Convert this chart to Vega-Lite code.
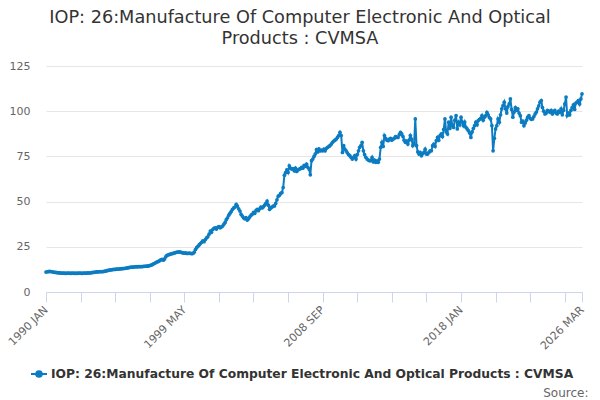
{
"$schema": "https://vega.github.io/schema/vega-lite/v6.json",
"width": 536, "height": 226,
"autosize": {"type": "none"},
"padding": {"left": 46, "top": 66, "right": 18, "bottom": 108},
"background": "white",
"config": {"view": {"stroke": null}, "font": "DejaVu Sans"},
"title": {"text": ["IOP: 26:Manufacture Of Computer Electronic And Optical", "Products : CVMSA"], "fontSize": 17.7, "fontWeight": "normal", "color": "#333333", "anchor": "middle", "dx": -14, "offset": 12, "lineHeight": 21.5, "font": "DejaVu Sans"},
"data": {"values": [
{"date":"1990-01","value":11.0},{"date":"1990-02","value":11.2},{"date":"1990-03","value":11.3},{"date":"1990-04","value":11.4},{"date":"1990-05","value":11.3},{"date":"1990-06","value":11.2},{"date":"1990-07","value":11.0},{"date":"1990-08","value":10.9},{"date":"1990-09","value":10.8},{"date":"1990-10","value":10.7},{"date":"1990-11","value":10.6},{"date":"1990-12","value":10.6},
{"date":"1991-01","value":10.5},{"date":"1991-02","value":10.4},{"date":"1991-03","value":10.5},{"date":"1991-04","value":10.4},{"date":"1991-05","value":10.3},{"date":"1991-06","value":10.4},{"date":"1991-07","value":10.5},{"date":"1991-08","value":10.4},{"date":"1991-09","value":10.3},{"date":"1991-10","value":10.4},{"date":"1991-11","value":10.4},{"date":"1991-12","value":10.3},
{"date":"1992-01","value":10.4},{"date":"1992-02","value":10.3},{"date":"1992-03","value":10.4},{"date":"1992-04","value":10.5},{"date":"1992-05","value":10.4},{"date":"1992-06","value":10.3},{"date":"1992-07","value":10.4},{"date":"1992-08","value":10.5},{"date":"1992-09","value":10.4},{"date":"1992-10","value":10.5},{"date":"1992-11","value":10.6},{"date":"1992-12","value":10.5},
{"date":"1993-01","value":10.6},{"date":"1993-02","value":10.7},{"date":"1993-03","value":10.8},{"date":"1993-04","value":10.9},{"date":"1993-05","value":11.0},{"date":"1993-06","value":11.1},{"date":"1993-07","value":11.1},{"date":"1993-08","value":11.2},{"date":"1993-09","value":11.3},{"date":"1993-10","value":11.2},{"date":"1993-11","value":11.3},{"date":"1993-12","value":11.4},
{"date":"1994-01","value":11.5},{"date":"1994-02","value":11.7},{"date":"1994-03","value":11.9},{"date":"1994-04","value":12.0},{"date":"1994-05","value":12.2},{"date":"1994-06","value":12.3},{"date":"1994-07","value":12.4},{"date":"1994-08","value":12.5},{"date":"1994-09","value":12.5},{"date":"1994-10","value":12.6},{"date":"1994-11","value":12.7},{"date":"1994-12","value":12.7},
{"date":"1995-01","value":12.8},{"date":"1995-02","value":12.9},{"date":"1995-03","value":12.9},{"date":"1995-04","value":13.0},{"date":"1995-05","value":13.1},{"date":"1995-06","value":13.2},{"date":"1995-07","value":13.3},{"date":"1995-08","value":13.5},{"date":"1995-09","value":13.6},{"date":"1995-10","value":13.7},{"date":"1995-11","value":13.8},{"date":"1995-12","value":13.8},
{"date":"1996-01","value":13.9},{"date":"1996-02","value":14.0},{"date":"1996-03","value":13.9},{"date":"1996-04","value":14.0},{"date":"1996-05","value":14.1},{"date":"1996-06","value":14.0},{"date":"1996-07","value":14.1},{"date":"1996-08","value":14.2},{"date":"1996-09","value":14.2},{"date":"1996-10","value":14.3},{"date":"1996-11","value":14.3},{"date":"1996-12","value":14.4},
{"date":"1997-01","value":14.6},{"date":"1997-02","value":14.8},{"date":"1997-03","value":15.1},{"date":"1997-04","value":15.5},{"date":"1997-05","value":15.9},{"date":"1997-06","value":16.3},{"date":"1997-07","value":16.6},{"date":"1997-08","value":16.9},{"date":"1997-09","value":17.3},{"date":"1997-10","value":17.8},{"date":"1997-11","value":18.0},{"date":"1997-12","value":17.6},
{"date":"1998-01","value":18.3},{"date":"1998-02","value":19.5},{"date":"1998-03","value":20.3},{"date":"1998-04","value":20.5},{"date":"1998-05","value":20.8},{"date":"1998-06","value":21.0},{"date":"1998-07","value":21.2},{"date":"1998-08","value":21.4},{"date":"1998-09","value":21.6},{"date":"1998-10","value":21.8},{"date":"1998-11","value":22.0},{"date":"1998-12","value":22.1},
{"date":"1999-01","value":22.2},{"date":"1999-02","value":22.0},{"date":"1999-03","value":21.8},{"date":"1999-04","value":21.6},{"date":"1999-05","value":21.5},{"date":"1999-06","value":21.6},{"date":"1999-07","value":21.4},{"date":"1999-08","value":21.3},{"date":"1999-09","value":21.5},{"date":"1999-10","value":21.4},{"date":"1999-11","value":21.2},{"date":"1999-12","value":21.3},
{"date":"2000-01","value":22.0},{"date":"2000-02","value":23.5},{"date":"2000-03","value":24.5},{"date":"2000-04","value":25.3},{"date":"2000-05","value":26.0},{"date":"2000-06","value":26.8},{"date":"2000-07","value":27.5},{"date":"2000-08","value":28.3},{"date":"2000-09","value":27.8},{"date":"2000-10","value":29.0},{"date":"2000-11","value":30.0},{"date":"2000-12","value":30.5},
{"date":"2001-01","value":32.0},{"date":"2001-02","value":33.7},{"date":"2001-03","value":33.0},{"date":"2001-04","value":34.5},{"date":"2001-05","value":35.2},{"date":"2001-06","value":35.5},{"date":"2001-07","value":34.8},{"date":"2001-08","value":35.8},{"date":"2001-09","value":36.2},{"date":"2001-10","value":35.5},{"date":"2001-11","value":36.0},{"date":"2001-12","value":36.5},
{"date":"2002-01","value":37.5},{"date":"2002-02","value":38.5},{"date":"2002-03","value":40.0},{"date":"2002-04","value":41.0},{"date":"2002-05","value":42.5},{"date":"2002-06","value":43.5},{"date":"2002-07","value":44.5},{"date":"2002-08","value":45.7},{"date":"2002-09","value":46.5},{"date":"2002-10","value":47.0},{"date":"2002-11","value":48.5},{"date":"2002-12","value":47.5},
{"date":"2003-01","value":46.0},{"date":"2003-02","value":44.8},{"date":"2003-03","value":43.0},{"date":"2003-04","value":42.0},{"date":"2003-05","value":41.0},{"date":"2003-06","value":40.5},{"date":"2003-07","value":41.2},{"date":"2003-08","value":39.8},{"date":"2003-09","value":40.5},{"date":"2003-10","value":41.5},{"date":"2003-11","value":42.5},{"date":"2003-12","value":43.0},
{"date":"2004-01","value":44.0},{"date":"2004-02","value":43.5},{"date":"2004-03","value":45.0},{"date":"2004-04","value":45.7},{"date":"2004-05","value":45.0},{"date":"2004-06","value":46.0},{"date":"2004-07","value":47.0},{"date":"2004-08","value":46.5},{"date":"2004-09","value":47.2},{"date":"2004-10","value":48.0},{"date":"2004-11","value":49.0},{"date":"2004-12","value":50.3},
{"date":"2005-01","value":48.0},{"date":"2005-02","value":45.7},{"date":"2005-03","value":46.5},{"date":"2005-04","value":47.0},{"date":"2005-05","value":47.5},{"date":"2005-06","value":47.6},{"date":"2005-07","value":49.0},{"date":"2005-08","value":51.0},{"date":"2005-09","value":53.0},{"date":"2005-10","value":53.5},{"date":"2005-11","value":54.5},{"date":"2005-12","value":55.0},
{"date":"2006-01","value":57.8},{"date":"2006-02","value":64.6},{"date":"2006-03","value":66.0},{"date":"2006-04","value":67.5},{"date":"2006-05","value":66.1},{"date":"2006-06","value":69.8},{"date":"2006-07","value":68.5},{"date":"2006-08","value":68.0},{"date":"2006-09","value":68.2},{"date":"2006-10","value":67.0},{"date":"2006-11","value":68.5},{"date":"2006-12","value":66.7},
{"date":"2007-01","value":67.5},{"date":"2007-02","value":68.0},{"date":"2007-03","value":68.2},{"date":"2007-04","value":69.0},{"date":"2007-05","value":68.5},{"date":"2007-06","value":70.0},{"date":"2007-07","value":69.5},{"date":"2007-08","value":70.7},{"date":"2007-09","value":69.0},{"date":"2007-10","value":68.0},{"date":"2007-11","value":64.8},{"date":"2007-12","value":72.6},
{"date":"2008-01","value":73.5},{"date":"2008-02","value":75.0},{"date":"2008-03","value":76.3},{"date":"2008-04","value":78.7},{"date":"2008-05","value":77.5},{"date":"2008-06","value":79.1},{"date":"2008-07","value":78.0},{"date":"2008-08","value":78.5},{"date":"2008-09","value":78.1},{"date":"2008-10","value":79.0},{"date":"2008-11","value":78.1},{"date":"2008-12","value":79.5},
{"date":"2009-01","value":80.0},{"date":"2009-02","value":80.5},{"date":"2009-03","value":81.0},{"date":"2009-04","value":81.8},{"date":"2009-05","value":82.8},{"date":"2009-06","value":83.5},{"date":"2009-07","value":84.0},{"date":"2009-08","value":84.6},{"date":"2009-09","value":85.5},{"date":"2009-10","value":86.5},{"date":"2009-11","value":88.3},{"date":"2009-12","value":86.5},
{"date":"2010-01","value":77.2},{"date":"2010-02","value":80.9},{"date":"2010-03","value":79.0},{"date":"2010-04","value":78.1},{"date":"2010-05","value":77.0},{"date":"2010-06","value":76.0},{"date":"2010-07","value":75.4},{"date":"2010-08","value":74.5},{"date":"2010-09","value":73.5},{"date":"2010-10","value":74.4},{"date":"2010-11","value":75.5},{"date":"2010-12","value":73.5},
{"date":"2011-01","value":76.0},{"date":"2011-02","value":78.1},{"date":"2011-03","value":80.0},{"date":"2011-04","value":81.0},{"date":"2011-05","value":82.8},{"date":"2011-06","value":78.1},{"date":"2011-07","value":76.0},{"date":"2011-08","value":74.5},{"date":"2011-09","value":73.5},{"date":"2011-10","value":73.0},{"date":"2011-11","value":72.6},{"date":"2011-12","value":72.6},
{"date":"2012-01","value":74.4},{"date":"2012-02","value":72.0},{"date":"2012-03","value":73.0},{"date":"2012-04","value":71.7},{"date":"2012-05","value":72.5},{"date":"2012-06","value":71.7},{"date":"2012-07","value":73.5},{"date":"2012-08","value":80.0},{"date":"2012-09","value":82.8},{"date":"2012-10","value":80.5},{"date":"2012-11","value":86.5},{"date":"2012-12","value":85.0},
{"date":"2013-01","value":84.0},{"date":"2013-02","value":83.7},{"date":"2013-03","value":84.5},{"date":"2013-04","value":85.0},{"date":"2013-05","value":84.0},{"date":"2013-06","value":84.6},{"date":"2013-07","value":85.0},{"date":"2013-08","value":86.0},{"date":"2013-09","value":85.5},{"date":"2013-10","value":85.5},{"date":"2013-11","value":87.0},{"date":"2013-12","value":88.3},
{"date":"2014-01","value":87.4},{"date":"2014-02","value":86.0},{"date":"2014-03","value":84.0},{"date":"2014-04","value":82.8},{"date":"2014-05","value":83.5},{"date":"2014-06","value":81.8},{"date":"2014-07","value":84.0},{"date":"2014-08","value":86.5},{"date":"2014-09","value":84.6},{"date":"2014-10","value":80.9},{"date":"2014-11","value":82.0},{"date":"2014-12","value":95.7},
{"date":"2015-01","value":80.9},{"date":"2015-02","value":77.5},{"date":"2015-03","value":76.3},{"date":"2015-04","value":77.2},{"date":"2015-05","value":75.4},{"date":"2015-06","value":76.5},{"date":"2015-07","value":77.2},{"date":"2015-08","value":79.0},{"date":"2015-09","value":76.3},{"date":"2015-10","value":76.3},{"date":"2015-11","value":77.2},{"date":"2015-12","value":78.1},
{"date":"2016-01","value":78.1},{"date":"2016-02","value":80.9},{"date":"2016-03","value":81.8},{"date":"2016-04","value":80.5},{"date":"2016-05","value":83.7},{"date":"2016-06","value":85.5},{"date":"2016-07","value":84.0},{"date":"2016-08","value":86.5},{"date":"2016-09","value":87.4},{"date":"2016-10","value":86.0},{"date":"2016-11","value":90.0},{"date":"2016-12","value":95.7},
{"date":"2017-01","value":88.5},{"date":"2017-02","value":87.4},{"date":"2017-03","value":93.9},{"date":"2017-04","value":90.5},{"date":"2017-05","value":96.7},{"date":"2017-06","value":92.0},{"date":"2017-07","value":91.1},{"date":"2017-08","value":95.0},{"date":"2017-09","value":97.6},{"date":"2017-10","value":90.2},{"date":"2017-11","value":93.9},{"date":"2017-12","value":92.5},
{"date":"2018-01","value":96.7},{"date":"2018-02","value":93.9},{"date":"2018-03","value":92.0},{"date":"2018-04","value":94.0},{"date":"2018-05","value":91.1},{"date":"2018-06","value":90.2},{"date":"2018-07","value":89.2},{"date":"2018-08","value":88.0},{"date":"2018-09","value":85.5},{"date":"2018-10","value":88.5},{"date":"2018-11","value":90.5},{"date":"2018-12","value":92.0},
{"date":"2019-01","value":93.9},{"date":"2019-02","value":92.5},{"date":"2019-03","value":94.8},{"date":"2019-04","value":95.5},{"date":"2019-05","value":96.0},{"date":"2019-06","value":97.6},{"date":"2019-07","value":95.0},{"date":"2019-08","value":96.7},{"date":"2019-09","value":97.5},{"date":"2019-10","value":99.4},{"date":"2019-11","value":98.0},{"date":"2019-12","value":96.5},
{"date":"2020-01","value":95.7},{"date":"2020-02","value":92.0},{"date":"2020-03","value":78.1},{"date":"2020-04","value":85.0},{"date":"2020-05","value":90.2},{"date":"2020-06","value":92.0},{"date":"2020-07","value":95.7},{"date":"2020-08","value":93.9},{"date":"2020-09","value":98.0},{"date":"2020-10","value":101.3},{"date":"2020-11","value":103.1},{"date":"2020-12","value":105.0},
{"date":"2021-01","value":101.3},{"date":"2021-02","value":99.0},{"date":"2021-03","value":102.5},{"date":"2021-04","value":104.0},{"date":"2021-05","value":106.8},{"date":"2021-06","value":101.0},{"date":"2021-07","value":96.7},{"date":"2021-08","value":99.5},{"date":"2021-09","value":102.0},{"date":"2021-10","value":100.5},{"date":"2021-11","value":101.3},{"date":"2021-12","value":99.0},
{"date":"2022-01","value":97.5},{"date":"2022-02","value":93.9},{"date":"2022-03","value":94.5},{"date":"2022-04","value":92.0},{"date":"2022-05","value":93.5},{"date":"2022-06","value":95.0},{"date":"2022-07","value":96.7},{"date":"2022-08","value":97.6},{"date":"2022-09","value":96.0},{"date":"2022-10","value":95.5},{"date":"2022-11","value":95.7},{"date":"2022-12","value":97.0},
{"date":"2023-01","value":98.5},{"date":"2023-02","value":99.5},{"date":"2023-03","value":101.3},{"date":"2023-04","value":103.0},{"date":"2023-05","value":105.0},{"date":"2023-06","value":105.9},{"date":"2023-07","value":102.0},{"date":"2023-08","value":100.0},{"date":"2023-09","value":98.5},{"date":"2023-10","value":99.0},{"date":"2023-11","value":100.5},{"date":"2023-12","value":100.0},
{"date":"2024-01","value":99.4},{"date":"2024-02","value":100.4},{"date":"2024-03","value":98.5},{"date":"2024-04","value":99.5},{"date":"2024-05","value":100.4},{"date":"2024-06","value":99.0},{"date":"2024-07","value":98.5},{"date":"2024-08","value":100.0},{"date":"2024-09","value":99.4},{"date":"2024-10","value":101.3},{"date":"2024-11","value":98.0},{"date":"2024-12","value":100.5},
{"date":"2025-01","value":104.0},{"date":"2025-02","value":107.8},{"date":"2025-03","value":97.6},{"date":"2025-04","value":99.0},{"date":"2025-05","value":98.0},{"date":"2025-06","value":100.5},{"date":"2025-07","value":102.0},{"date":"2025-08","value":103.5},{"date":"2025-09","value":101.0},{"date":"2025-10","value":104.5},{"date":"2025-11","value":105.0},{"date":"2025-12","value":105.9},
{"date":"2026-01","value":104.0},{"date":"2026-02","value":106.8},{"date":"2026-03","value":109.6}
]},
"mark": {"type": "line", "strokeWidth": 2, "point": {"filled": true, "size": 14}},
"encoding": {
"x": {"field": "date", "type": "temporal",
 "scale": {"type": "utc", "domain": [{"year": 1990, "month": 1, "date": 1, "utc": true}, {"year": 2026, "month": 3, "date": 1, "utc": true}], "nice": false},
 "axis": {"title": "Source:", "titleAnchor": "end", "titleAlign": "right", "titleBaseline": "middle", "titleX": 542, "titleY": 100, "titleFontWeight": "normal", "titleFontSize": 12, "titleColor": "#666666", "titleFont": "DejaVu Sans",
  "values": [{"year":1990,"month":1,"date":1,"utc":true},{"year":1992,"month":5,"date":1,"utc":true},{"year":1994,"month":9,"date":1,"utc":true},{"year":1997,"month":1,"date":1,"utc":true},{"year":1999,"month":5,"date":1,"utc":true},{"year":2001,"month":9,"date":1,"utc":true},{"year":2004,"month":1,"date":1,"utc":true},{"year":2006,"month":5,"date":1,"utc":true},{"year":2008,"month":9,"date":1,"utc":true},{"year":2011,"month":1,"date":1,"utc":true},{"year":2013,"month":5,"date":1,"utc":true},{"year":2015,"month":9,"date":1,"utc":true},{"year":2018,"month":1,"date":1,"utc":true},{"year":2020,"month":5,"date":1,"utc":true},{"year":2022,"month":9,"date":1,"utc":true},{"year":2025,"month":1,"date":1,"utc":true},{"year":2026,"month":3,"date":1,"utc":true}],
  "labelExpr": "indexof(['1990-01','1999-05','2008-09','2018-01','2026-03'], utcFormat(datum.value, '%Y-%m')) >= 0 ? upper(utcFormat(datum.value, '%Y %b')) : ''",
  "labelAngle": -45, "labelAlign": "right", "labelBaseline": "middle", "labelPadding": 6, "labelOverlap": false, "labelBound": false, "labelFlush": false,
  "labelFontSize": 11, "labelColor": "#666666", "labelFont": "DejaVu Sans",
  "domainColor": "#ccd6eb", "tickColor": "#ccd6eb", "tickSize": 10, "grid": false}},
"y": {"field": "value", "type": "quantitative",
 "scale": {"domain": [0, 125], "nice": false},
 "axis": {"title": null, "values": [0, 25, 50, 75, 100, 125], "domain": false, "ticks": false, "labelPadding": 16, "labelFontSize": 11, "labelColor": "#666666", "labelFont": "DejaVu Sans", "gridColor": "#e6e6e6", "gridWidth": 1}},
"color": {"datum": "IOP: 26:Manufacture Of Computer Electronic And Optical Products : CVMSA", "type": "nominal",
 "scale": {"range": ["#0c7cc2"]},
 "legend": {"title": null, "orient": "none", "legendX": -16, "legendY": 299, "direction": "horizontal",
  "symbolType": "M-1,0H1M0,-0.35A0.35,0.35,0,1,1,0,0.35A0.35,0.35,0,1,1,0,-0.35Z", "symbolSize": 256, "symbolStrokeWidth": 2,
  "labelFontSize": 12.3, "labelFontWeight": "bold", "labelColor": "#333333", "labelFont": "DejaVu Sans", "labelLimit": 700, "labelOffset": 3,
  "encode": {"symbols": {"update": {"fill": {"value": "#0c7cc2"}, "stroke": {"value": "#0c7cc2"}}}}}}
}
}
